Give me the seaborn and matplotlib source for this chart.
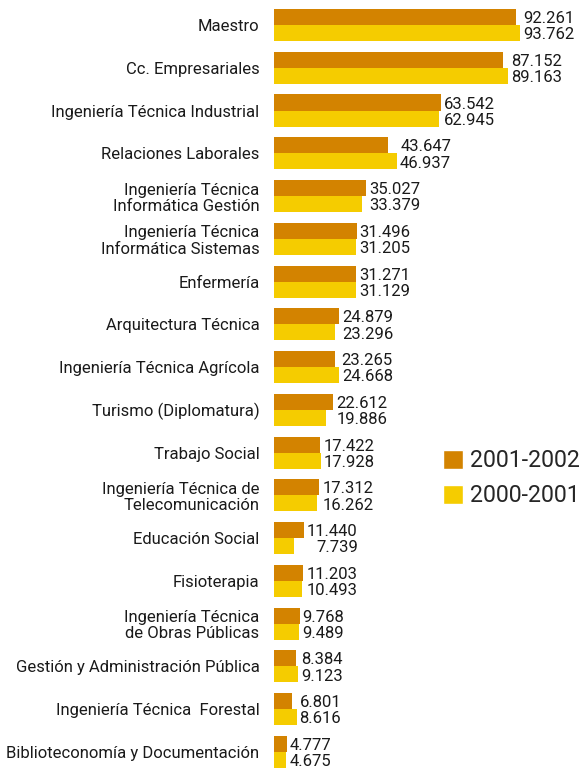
import matplotlib
matplotlib.use("Agg")
import matplotlib.pyplot as plt
import seaborn as sns
import pandas as pd
from matplotlib.patches import Patch

categories = [
    "Maestro", "Cc. Empresariales", "Ingeniería Técnica Industrial",
    "Relaciones Laborales", "Ingeniería Técnica\nInformática Gestión",
    "Ingeniería Técnica\nInformática Sistemas", "Enfermería",
    "Arquitectura Técnica", "Ingeniería Técnica Agrícola",
    "Turismo (Diplomatura)", "Trabajo Social",
    "Ingeniería Técnica de\nTelecomunicación", "Educación Social",
    "Fisioterapia", "Ingeniería Técnica\nde Obras Públicas",
    "Gestión y Administración Pública", "Ingeniería Técnica  Forestal",
    "Biblioteconomía y Documentación",
]
v_2001_2002 = [92.261, 87.152, 63.542, 43.647, 35.027, 31.496, 31.271, 24.879,
               23.265, 22.612, 17.422, 17.312, 11.440, 11.203, 9.768, 8.384,
               6.801, 4.777]
v_2000_2001 = [93.762, 89.163, 62.945, 46.937, 33.379, 31.205, 31.129, 23.296,
               24.668, 19.886, 17.928, 16.262, 7.739, 10.493, 9.489, 9.123,
               8.616, 4.675]
series = ["2001-2002", "2000-2001"]
colors = ["#D38300", "#F5CC00"]

rows = []
for c, a, b in zip(categories, v_2001_2002, v_2000_2001):
    rows.append({"cat": c, "serie": series[0], "val": a})
    rows.append({"cat": c, "serie": series[1], "val": b})
df = pd.DataFrame(rows)

sns.set_style("white")
plt.rcParams["font.family"] = ["Roboto", "DejaVu Sans"]

fig = plt.figure(figsize=(5.88, 7.69), dpi=100)
ax = fig.add_axes([274 / 588, 0.0, 1 - 274 / 588, 1.0])
sns.barplot(data=df, y="cat", x="val", hue="serie", hue_order=series,
            palette=colors, orient="h", width=0.75, saturation=1,
            linewidth=0, ax=ax, legend=False, errorbar=None)

px = 2.623  # pixels per data unit
ax.set_xlim(0, 314 / px)
ax.set_ylim(17.40, -0.585)
ax.set_xlabel("")
ax.set_ylabel("")
ax.set_xticks([])
for s in ax.spines.values():
    s.set_visible(False)
ax.tick_params(axis="y", length=0, pad=10.5, labelsize=12, labelcolor="#1a1a1a")
for t in ax.get_yticklabels():
    t.set_linespacing(1.1)

renderer = fig.canvas.get_renderer()


def text_width(s):
    t = fig.text(0, 0, s, fontsize=12)
    w = t.get_window_extent(renderer=renderer).width
    t.remove()
    return w


for i, (a, b) in enumerate(zip(v_2001_2002, v_2000_2001)):
    la, lb = f"{a:.3f}", f"{b:.3f}"
    w = max(text_width(la), text_width(lb))
    off = 3 + w
    ax.annotate(la, xy=(max(a, b), i - 0.15), xytext=(off, 0),
                textcoords="offset pixels", va="center", ha="right",
                fontsize=12, color="#1a1a1a")
    ax.annotate(lb, xy=(max(a, b), i + 0.23), xytext=(off, 0),
                textcoords="offset pixels", va="center", ha="right",
                fontsize=12, color="#1a1a1a")

handles = [Patch(facecolor=colors[0], label=series[0]),
           Patch(facecolor=colors[1], label=series[1])]
fig.legend(handles=handles, loc="upper left", bbox_to_anchor=(434 / 588, 1 - 440 / 769),
           frameon=False, fontsize=16.7, handlelength=0.86, handleheight=0.86,
           handletextpad=0.3, labelspacing=0.52, borderaxespad=0)

fig.savefig("out.png", dpi=100)
